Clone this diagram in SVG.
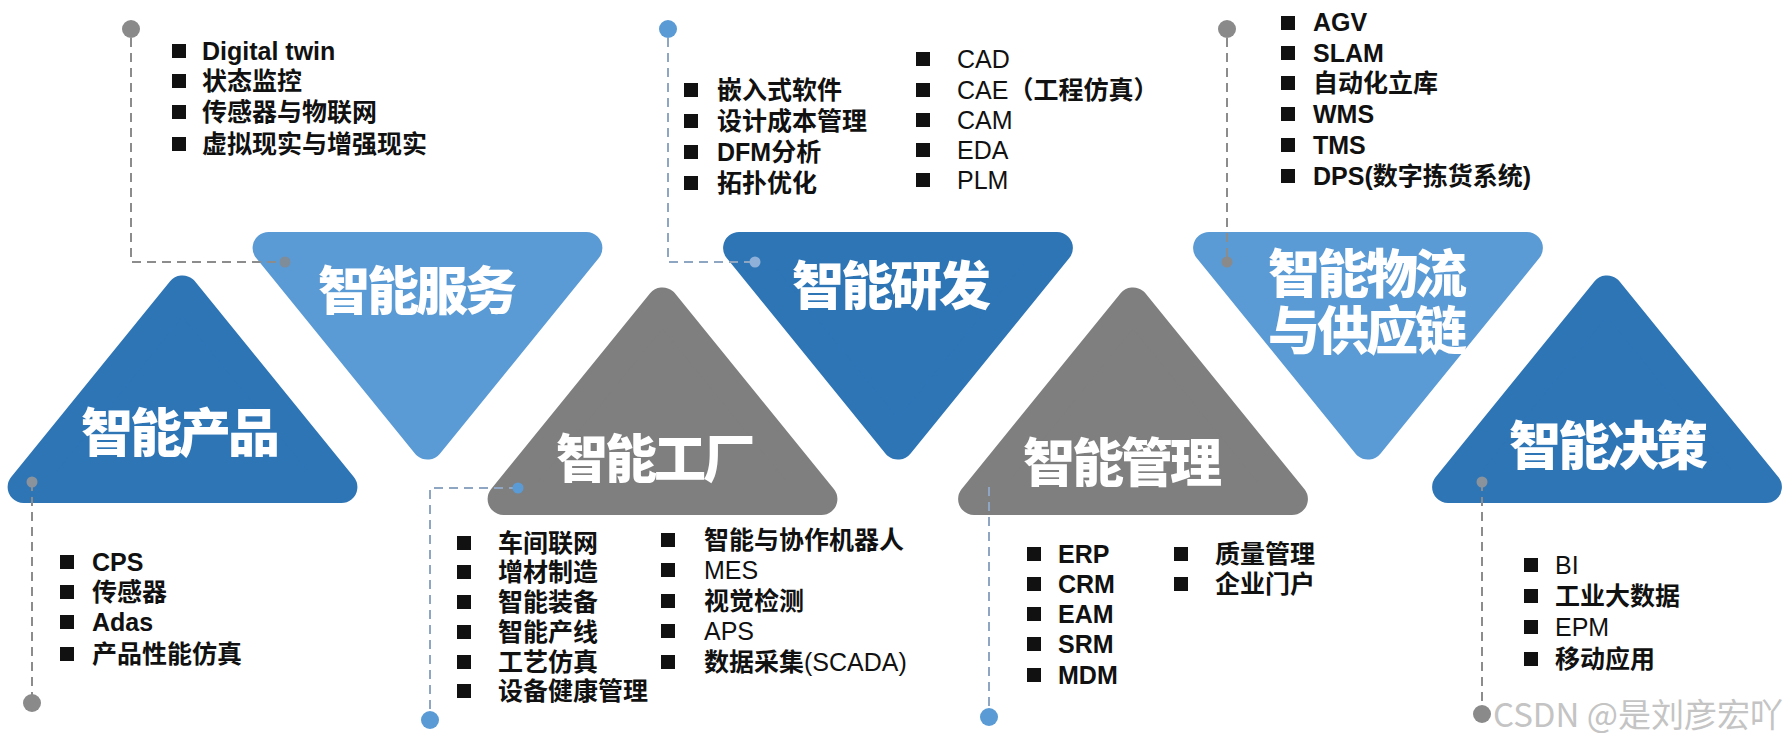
<svg xmlns="http://www.w3.org/2000/svg" width="1790" height="744" viewBox="0 0 1790 744">
<style>
.tri{stroke-width:32;stroke-linejoin:round}
.dk{fill:#2E75B6;stroke:#2E75B6}
.lt{fill:#5B9BD5;stroke:#5B9BD5}
.gy{fill:#7F7F7F;stroke:#7F7F7F}
.lbl{font-family:"Noto Sans CJK SC","Noto Sans CJK JP",sans-serif;font-weight:900;font-size:52px;fill:#FFFFFF;text-anchor:middle;letter-spacing:-3px}
.it{font-family:"Liberation Sans","Noto Sans CJK SC",sans-serif;font-weight:700;font-size:25px;fill:#111111}
.rg{font-weight:400}
.b{fill:#111111}
.dash{fill:none;stroke-width:2;stroke-dasharray:9 6}
.dg{stroke:#8C8C8C}
.db{stroke:#8FA6C2}
.pg{fill:#8A8A8A}
.pb{fill:#5B9BD5}
.wm{font-family:"Noto Sans CJK SC",sans-serif;font-weight:400;font-size:33px;fill:#C4C4C4;text-anchor:end}
</style>
<rect x="0" y="0" width="1790" height="744" fill="#FFFFFF"/>

<g id="node-product">
<polygon class="tri dk" points="182.5,291.4 341.4,487 23.6,487"/>
<text class="lbl" x="179" y="452">智能产品</text>
<rect class="b" x="60" y="555" width="14" height="14"/>
<rect class="b" x="60" y="585" width="14" height="14"/>
<rect class="b" x="60" y="615" width="14" height="14"/>
<rect class="b" x="60" y="647" width="14" height="14"/>
<text class="it" x="92" y="571">CPS</text>
<text class="it" x="92" y="601">传感器</text>
<text class="it" x="92" y="631">Adas</text>
<text class="it" x="92" y="663">产品性能仿真</text>
</g>

<g id="node-service">
<polygon class="tri lt" points="268.6,248 586.4,248 427.5,443.6"/>
<text class="lbl" x="416" y="310">智能服务</text>
<rect class="b" x="172" y="44" width="14" height="14"/>
<rect class="b" x="172" y="74" width="14" height="14"/>
<rect class="b" x="172" y="105" width="14" height="14"/>
<rect class="b" x="172" y="137" width="14" height="14"/>
<text class="it" x="202" y="60">Digital twin</text>
<text class="it" x="202" y="90">状态监控</text>
<text class="it" x="202" y="121">传感器与物联网</text>
<text class="it" x="202" y="153">虚拟现实与增强现实</text>
</g>

<g id="node-factory">
<polygon class="tri gy" points="662.5,303.4 821.4,499 503.6,499"/>
<text class="lbl" x="654" y="478">智能工厂</text>
<rect class="b" x="457" y="536" width="14" height="14"/>
<rect class="b" x="457" y="565" width="14" height="14"/>
<rect class="b" x="457" y="595" width="14" height="14"/>
<rect class="b" x="457" y="625" width="14" height="14"/>
<rect class="b" x="457" y="655" width="14" height="14"/>
<rect class="b" x="457" y="684" width="14" height="14"/>
<text class="it" x="498" y="552">车间联网</text>
<text class="it" x="498" y="581">增材制造</text>
<text class="it" x="498" y="611">智能装备</text>
<text class="it" x="498" y="641">智能产线</text>
<text class="it" x="498" y="671">工艺仿真</text>
<text class="it" x="498" y="700">设备健康管理</text>
<rect class="b" x="661" y="533" width="14" height="14"/>
<rect class="b" x="661" y="563" width="14" height="14"/>
<rect class="b" x="661" y="594" width="14" height="14"/>
<rect class="b" x="661" y="624" width="14" height="14"/>
<rect class="b" x="661" y="655" width="14" height="14"/>
<text class="it" x="704" y="549">智能与协作机器人</text>
<text class="it" x="704" y="579"><tspan class="rg">MES</tspan></text>
<text class="it" x="704" y="610">视觉检测</text>
<text class="it" x="704" y="640"><tspan class="rg">APS</tspan></text>
<text class="it" x="704" y="671">数据采集<tspan class="rg">(SCADA)</tspan></text>
</g>

<g id="node-rnd">
<polygon class="tri dk" points="739.1,248 1056.9,248 898,443.6"/>
<text class="lbl" x="890" y="305">智能研发</text>
<rect class="b" x="684" y="83" width="14" height="14"/>
<rect class="b" x="684" y="114" width="14" height="14"/>
<rect class="b" x="684" y="145" width="14" height="14"/>
<rect class="b" x="684" y="176" width="14" height="14"/>
<text class="it" x="717" y="99">嵌入式软件</text>
<text class="it" x="717" y="130">设计成本管理</text>
<text class="it" x="717" y="161">DFM分析</text>
<text class="it" x="717" y="192">拓扑优化</text>
<rect class="b" x="916" y="52" width="14" height="14"/>
<rect class="b" x="916" y="83" width="14" height="14"/>
<rect class="b" x="916" y="113" width="14" height="14"/>
<rect class="b" x="916" y="143" width="14" height="14"/>
<rect class="b" x="916" y="173" width="14" height="14"/>
<text class="it" x="957" y="68"><tspan class="rg">CAD</tspan></text>
<text class="it" x="957" y="99"><tspan class="rg">CAE</tspan>（工程仿真）</text>
<text class="it" x="957" y="129"><tspan class="rg">CAM</tspan></text>
<text class="it" x="957" y="159"><tspan class="rg">EDA</tspan></text>
<text class="it" x="957" y="189"><tspan class="rg">PLM</tspan></text>
</g>

<g id="node-management">
<polygon class="tri gy" points="1133,303.4 1291.9,499 974.1,499"/>
<text class="lbl" x="1121" y="482">智能管理</text>
<rect class="b" x="1027" y="547" width="14" height="14"/>
<rect class="b" x="1027" y="577" width="14" height="14"/>
<rect class="b" x="1027" y="607" width="14" height="14"/>
<rect class="b" x="1027" y="637" width="14" height="14"/>
<rect class="b" x="1027" y="668" width="14" height="14"/>
<text class="it" x="1058" y="563">ERP</text>
<text class="it" x="1058" y="593">CRM</text>
<text class="it" x="1058" y="623">EAM</text>
<text class="it" x="1058" y="653">SRM</text>
<text class="it" x="1058" y="684">MDM</text>
<rect class="b" x="1174" y="547" width="14" height="14"/>
<rect class="b" x="1174" y="577" width="14" height="14"/>
<text class="it" x="1215" y="563">质量管理</text>
<text class="it" x="1215" y="593">企业门户</text>
</g>

<g id="node-logistics">
<polygon class="tri lt" points="1209.1,248 1526.9,248 1368,443.6"/>
<text class="lbl" x="1366" y="293"><tspan x="1366" y="293">智能物流</tspan><tspan x="1366" y="350">与供应链</tspan></text>
<rect class="b" x="1281" y="16" width="14" height="14"/>
<rect class="b" x="1281" y="46" width="14" height="14"/>
<rect class="b" x="1281" y="76" width="14" height="14"/>
<rect class="b" x="1281" y="107" width="14" height="14"/>
<rect class="b" x="1281" y="138" width="14" height="14"/>
<rect class="b" x="1281" y="169" width="14" height="14"/>
<text class="it" x="1313" y="31">AGV</text>
<text class="it" x="1313" y="62">SLAM</text>
<text class="it" x="1313" y="92">自动化立库</text>
<text class="it" x="1313" y="123">WMS</text>
<text class="it" x="1313" y="154">TMS</text>
<text class="it" x="1313" y="185">DPS(数字拣货系统)</text>
</g>

<g id="node-decision">
<polygon class="tri dk" points="1607,291.4 1765.9,487 1448.1,487"/>
<text class="lbl" x="1607" y="465">智能决策</text>
<rect class="b" x="1524" y="558" width="14" height="14"/>
<rect class="b" x="1524" y="589" width="14" height="14"/>
<rect class="b" x="1524" y="620" width="14" height="14"/>
<rect class="b" x="1524" y="652" width="14" height="14"/>
<text class="it" x="1555" y="574"><tspan class="rg">BI</tspan></text>
<text class="it" x="1555" y="605">工业大数据</text>
<text class="it" x="1555" y="636"><tspan class="rg">EPM</tspan></text>
<text class="it" x="1555" y="668">移动应用</text>
</g>

<g id="connectors">
<polyline class="dash dg" points="131,38 131,262 285,262"/>
<polyline class="dash db" points="668,38 668,262 755,262"/>
<polyline class="dash dg" points="1227,38 1227,262"/>
<polyline class="dash dg" points="32,482 32,703"/>
<polyline class="dash db" points="518,488 430,488 430,720"/>
<polyline class="dash db" points="989,487 989,717"/>
<polyline class="dash dg" points="1482,482 1482,714"/>
<circle class="pg" cx="131" cy="29" r="9"/>
<circle fill="#7F8C99" cx="285" cy="262" r="5.5"/>
<circle class="pb" cx="668" cy="29" r="9"/>
<circle fill="#8FB0D8" cx="755" cy="262" r="5.5"/>
<circle class="pg" cx="1227" cy="29" r="9"/>
<circle class="pg" cx="1227" cy="262" r="5.5"/>
<circle fill="#8A929C" cx="32" cy="482" r="5.5"/>
<circle class="pg" cx="32" cy="703" r="9"/>
<circle class="pb" cx="518" cy="488" r="5.5"/>
<circle class="pb" cx="430" cy="720" r="9"/>
<circle class="pb" cx="989" cy="717" r="9"/>
<circle fill="#8A929C" cx="1482" cy="482" r="5.5"/>
<circle class="pg" cx="1482" cy="714" r="9"/>
</g>

<text class="wm" x="1783" y="727">CSDN @是刘彦宏吖</text>
</svg>
